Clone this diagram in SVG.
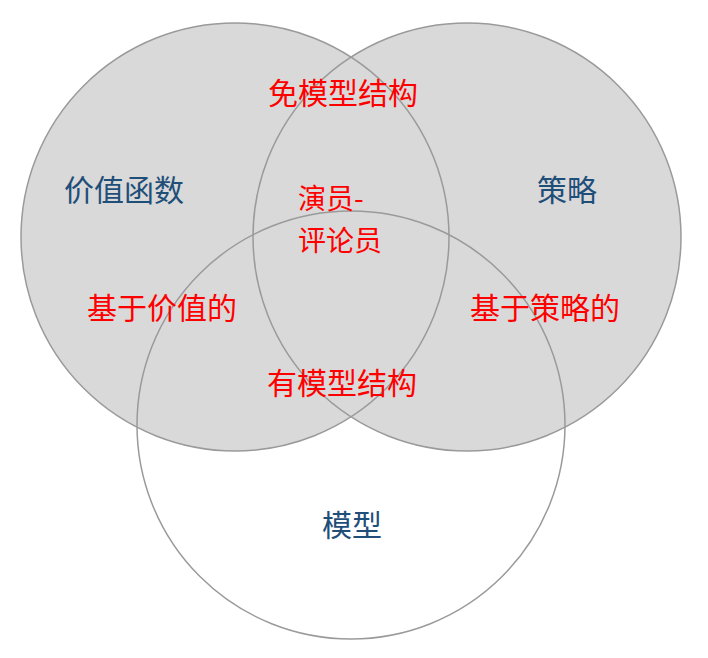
<svg xmlns="http://www.w3.org/2000/svg" width="708" height="658" viewBox="0 0 708 658">
<style>
.fill-g{fill:#d9d9d9;stroke:none}
.fill-w{fill:#ffffff;stroke:none}
.ring{fill:none;stroke:#9a9a9a;stroke-width:1.5}
text{font-family:"Noto Sans CJK SC","Noto Sans CJK JP",sans-serif;font-size:30px}
.red{fill:#ff0000}
.blue{fill:#1f4e79}
.ac{font-size:28px}
</style>
<rect width="708" height="658" fill="#ffffff"/>
<g id="fills">
<circle class="fill-w" cx="351" cy="425" r="214"/>
<circle class="fill-g" cx="235" cy="237" r="214"/>
<circle class="fill-g" cx="467" cy="237" r="214"/>
</g>
<g id="value-function">
<circle class="ring" cx="235" cy="237" r="214"/>
<text class="blue" x="64" y="201">价值函数</text>
</g>
<g id="policy">
<circle class="ring" cx="467" cy="237" r="214"/>
<text class="blue" x="537" y="201">策略</text>
</g>
<g id="model">
<circle class="ring" cx="351" cy="425" r="214"/>
<text class="blue" x="322" y="536">模型</text>
</g>
<g id="connectors"></g>
<g id="model-free">
<text class="red" x="268" y="104">免模型结构</text>
</g>
<g id="actor-critic">
<text class="red ac" x="298" y="209">演员-</text>
<text class="red ac" x="298" y="251">评论员</text>
</g>
<g id="value-based">
<text class="red" x="87" y="319">基于价值的</text>
</g>
<g id="policy-based">
<text class="red" x="470" y="319">基于策略的</text>
</g>
<g id="model-based">
<text class="red" x="267" y="394">有模型结构</text>
</g>
</svg>
